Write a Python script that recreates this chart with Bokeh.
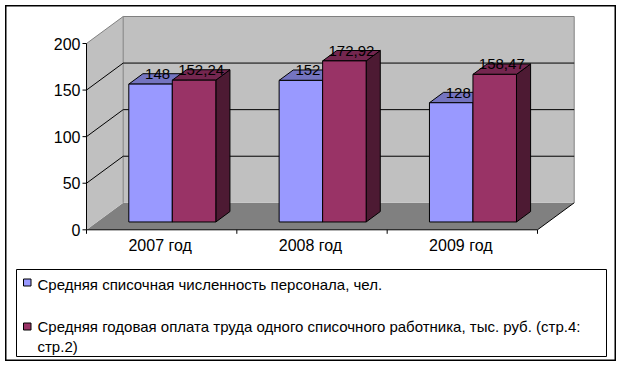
from bokeh.plotting import figure
from bokeh.models import ColumnDataSource, Range1d
from bokeh.embed import file_html
from bokeh.resources import INLINE
from bokeh.core.properties import value

# ---- data ----
categories = ["2007 год", "2008 год", "2009 год"]
series_names = [
    "Средняя списочная численность персонала, чел.",
    "Средняя годовая оплата труда одного списочного работника, тыс. руб. (стр.4: стр.2)",
]
headcount = [148, 152, 128]
avg_pay = [152.24, 172.92, 158.47]
y_ticks = [0, 50, 100, 150, 200]

series_values = [headcount, avg_pay]
front_colors = ["#9999FF", "#993366"]
top_colors = ["#7474C0", "#74264F"]
side_colors = ["#4D4D80", "#4D1A33"]

FONT = "Liberation Sans"

# ---- geometry (pixels per data unit, page origin of the value axis) ----
PX = 150.33
PY = 0.9315
OX, OY = 86.0, 229.3
LEFT, TOP, RIGHT, BOTTOM = 5.0, 5.0, 616.0, 361.0


def X(px):
    return (px - OX) / PX


def Y(py):
    return (OY - py) / PY


NCAT = len(categories)
YMAX = y_ticks[-1]
DX = 36.7 / PX
DY = 27.0 / PY
GAP = 0.2106
BW = 0.2894
F0 = 0.29
FD = 0.385

W = int(RIGHT - LEFT)
H = int(BOTTOM - TOP)

p = figure(width=W, height=H, output_backend="svg", toolbar_location=None,
           x_axis_location=None, y_axis_location=None, min_border=0,
           x_range=Range1d(X(LEFT), X(RIGHT)), y_range=Range1d(Y(BOTTOM), Y(TOP)))
p.margin = (5, 0, 0, 5)
p.grid.visible = False
p.outline_line_color = "black"
p.outline_line_width = 2
p.background_fill_color = "white"
p.border_fill_color = "white"

# ---- walls and floor ----
p.patch([0, NCAT, NCAT + DX, DX], [0, 0, DY, DY], fill_color="#808080", line_color=None)
p.patch([0, DX, DX, 0], [0, DY, YMAX + DY, YMAX], fill_color="#C0C0C0", line_color=None)
p.quad(left=[DX], right=[NCAT + DX], bottom=[DY], top=[YMAX + DY],
       fill_color="#C0C0C0", line_color=None)
p.multi_line(
    xs=[[0, DX, NCAT + DX, NCAT + DX], [DX, DX]],
    ys=[[YMAX, YMAX + DY, YMAX + DY, DY], [DY, YMAX + DY]],
    line_color="#808080", line_width=1)

# gridlines (side wall diagonal + back wall)
grid_vals = y_ticks[1:-1]
p.multi_line(xs=[[0, DX, NCAT + DX] for _ in grid_vals],
             ys=[[v, v + DY, v + DY] for v in grid_vals],
             line_color="black", line_width=1)

# axes
TLX = 4.0 / PX
TLY = 4.0 / PY
axis_xs = [[0, 0], [0, NCAT], [NCAT, NCAT + DX]]
axis_ys = [[0, YMAX], [0, 0], [0, DY]]
for v in y_ticks:
    axis_xs.append([-TLX, 0])
    axis_ys.append([v, v])
for i in range(NCAT + 1):
    axis_xs.append([i, i])
    axis_ys.append([0, -TLY])
p.multi_line(xs=axis_xs, ys=axis_ys, line_color="black", line_width=1)

p.text(x=[X(80.0)] * len(y_ticks), y=y_ticks, text=[str(v) for v in y_ticks],
       text_align="right", text_baseline="middle", text_font=value(FONT),
       text_font_size="16px", text_color="black")

p.text(x=[i + 0.5 - 1.5 / PX for i in range(NCAT)], y=[Y(245.3)] * NCAT, text=categories,
       text_align="center", text_baseline="middle", text_font=value(FONT),
       text_font_size="16px", text_color="black")

# ---- 3D bars ----
bx = FD * DX
by = FD * DY
b0 = F0 * DY
polys_x, polys_y, fills = [], [], []
lab_x, lab_y, lab_t = [], [], []
for i in range(NCAT):
    for s, vals in enumerate(series_values):
        v = vals[i]
        L = i + GAP + s * BW + F0 * DX
        R = L + BW
        t = b0 + v
        # side
        polys_x.append([R, R + bx, R + bx, R])
        polys_y.append([b0, b0 + by, t + by, t])
        fills.append(side_colors[s])
        # top
        polys_x.append([L, R, R + bx, L + bx])
        polys_y.append([t, t, t + by, t + by])
        fills.append(top_colors[s])
        # front
        polys_x.append([L, R, R, L])
        polys_y.append([b0, b0, t, t])
        fills.append(front_colors[s])
        lab_x.append((L + R) / 2 + bx / 2)
        lab_y.append(t + 10.2 / PY)
        lab_t.append(f"{v:g}".replace(".", ","))

bars = ColumnDataSource(dict(xs=polys_x, ys=polys_y, fill=fills))
p.patches(xs="xs", ys="ys", fill_color="fill", line_color="black", line_width=1, source=bars)

p.text(x=lab_x, y=lab_y, text=lab_t, text_align="center", text_baseline="middle",
       text_font=value(FONT), text_font_size="15px", text_color="black")

# ---- legend ----
p.quad(left=[X(16)], right=[X(606)], bottom=[Y(356)], top=[Y(269)],
       fill_color="white", line_color="black", line_width=1)
sq_top = [278.5, 322.5]
p.quad(left=[X(23)] * 2, right=[X(30.5)] * 2,
       top=[Y(t) for t in sq_top], bottom=[Y(t + 7) for t in sq_top],
       fill_color=front_colors, line_color="black", line_width=1)
first, rest = series_names[1].rsplit(" ", 1)
leg_lines = [series_names[0], first, rest]
leg_mid = [284.3, 326.0, 345.5]
p.text(x=[X(37)] * 3, y=[Y(b) for b in leg_mid], text=leg_lines,
       text_align="left", text_baseline="middle", text_font=value(FONT),
       text_font_size="15px", text_color="black")

open("out.html", "w").write(file_html(p, INLINE))
